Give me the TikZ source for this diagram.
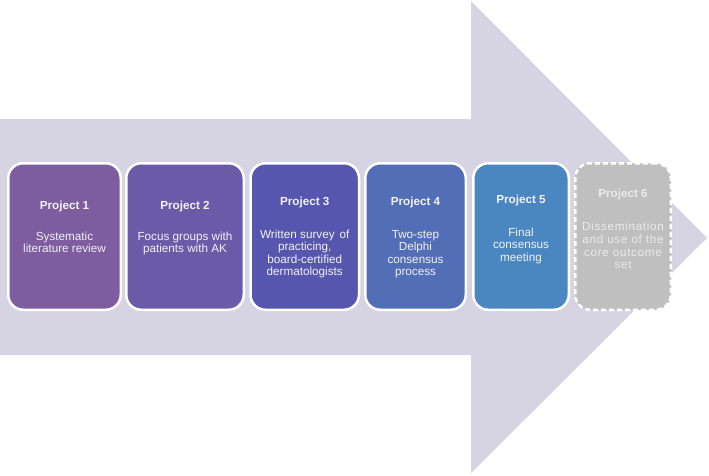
\documentclass[tikz,border=0pt]{standalone}
\usepackage{fontspec}
\setmainfont{Liberation Sans}
\usepackage{tikz}
\usetikzlibrary{
    positioning,
    arrows.meta
}
\definecolor{ArrowBg}{RGB}{214,211,227}
\definecolor{ProjOne}{RGB}{125,92,160}
\definecolor{ProjTwo}{RGB}{106,91,169}
\definecolor{ProjThree}{RGB}{86,86,174}
\definecolor{ProjFour}{RGB}{82,110,182}
\definecolor{ProjFive}{RGB}{74,135,192}
\definecolor{ProjSix}{RGB}{191,191,191}

\begin{document}
\begin{tikzpicture}[
    x=1pt, y=-1pt,
    project/.style={rectangle, draw=white, line width=2.5pt, rounded corners=15pt, minimum height=146.5pt, inner sep=0pt},
    planned/.style={project, dash pattern=on 5pt off 3pt},
    label/.style={inner sep=0pt, anchor=north, align=center, text=white!95!black, font=\fontsize{11.7}{12.5}\selectfont}
]
\useasboundingbox (0,0) rectangle (709,475);
\fill[ArrowBg] (0,119) -- (471,119) -- (471,1) -- (707,238) -- (471,473) -- (471,355) -- (0,355) -- cycle;

\node[project, fill=ProjOne, minimum width=112.5pt] (p1) at (64.5,236.5) {};
\node[project, fill=ProjTwo, minimum width=117.5pt] (p2) at (185,236.5) {};
\node[project, fill=ProjThree, minimum width=108.5pt] (p3) at (304.75,236.5) {};
\node[project, fill=ProjFour, minimum width=100.5pt] (p4) at (415.5,236.5) {};
\node[project, fill=ProjFive, minimum width=95.5pt] (p5) at (521,236.5) {};
\node[planned, fill=ProjSix, minimum width=95.5pt] (p6) at (623,236.5) {};

\node[label] (t1) at (p1.center |- 0,200.5) {\textbf{Project 1}\\[18.5pt] Systematic\\ literature review};
\node[label] (t2) at (p2.center |- 0,200.5) {\textbf{Project 2}\\[18.5pt] Focus groups with\\ patients with AK};
\node[label] (t3) at (p3.center |- 0,197) {\textbf{Project 3}\\[20pt] Written survey\hspace{5pt}of\\ practicing,\\ board-certified\\ dermatologists};
\node[label] (t4) at (p4.center |- 0,197) {\textbf{Project 4}\\[20pt] Two-step\\ Delphi\\ consensus\\ process};
\node[label] (t5) at (p5.center |- 0,195) {\textbf{Project 5}\\[20pt] Final\\ consensus\\ meeting};
\node[label, text=white!92!black, font=\fontsize{11.7}{12.8}\selectfont] (t6) at (p6.center |- 0,189) {\textbf{Project 6}\\[20pt] \addfontfeatures{LetterSpace=6}Dissemination\\ \addfontfeatures{LetterSpace=6}and use of the\\ \addfontfeatures{LetterSpace=6}core outcome\\ \addfontfeatures{LetterSpace=6}set};
\end{tikzpicture}
\end{document}
